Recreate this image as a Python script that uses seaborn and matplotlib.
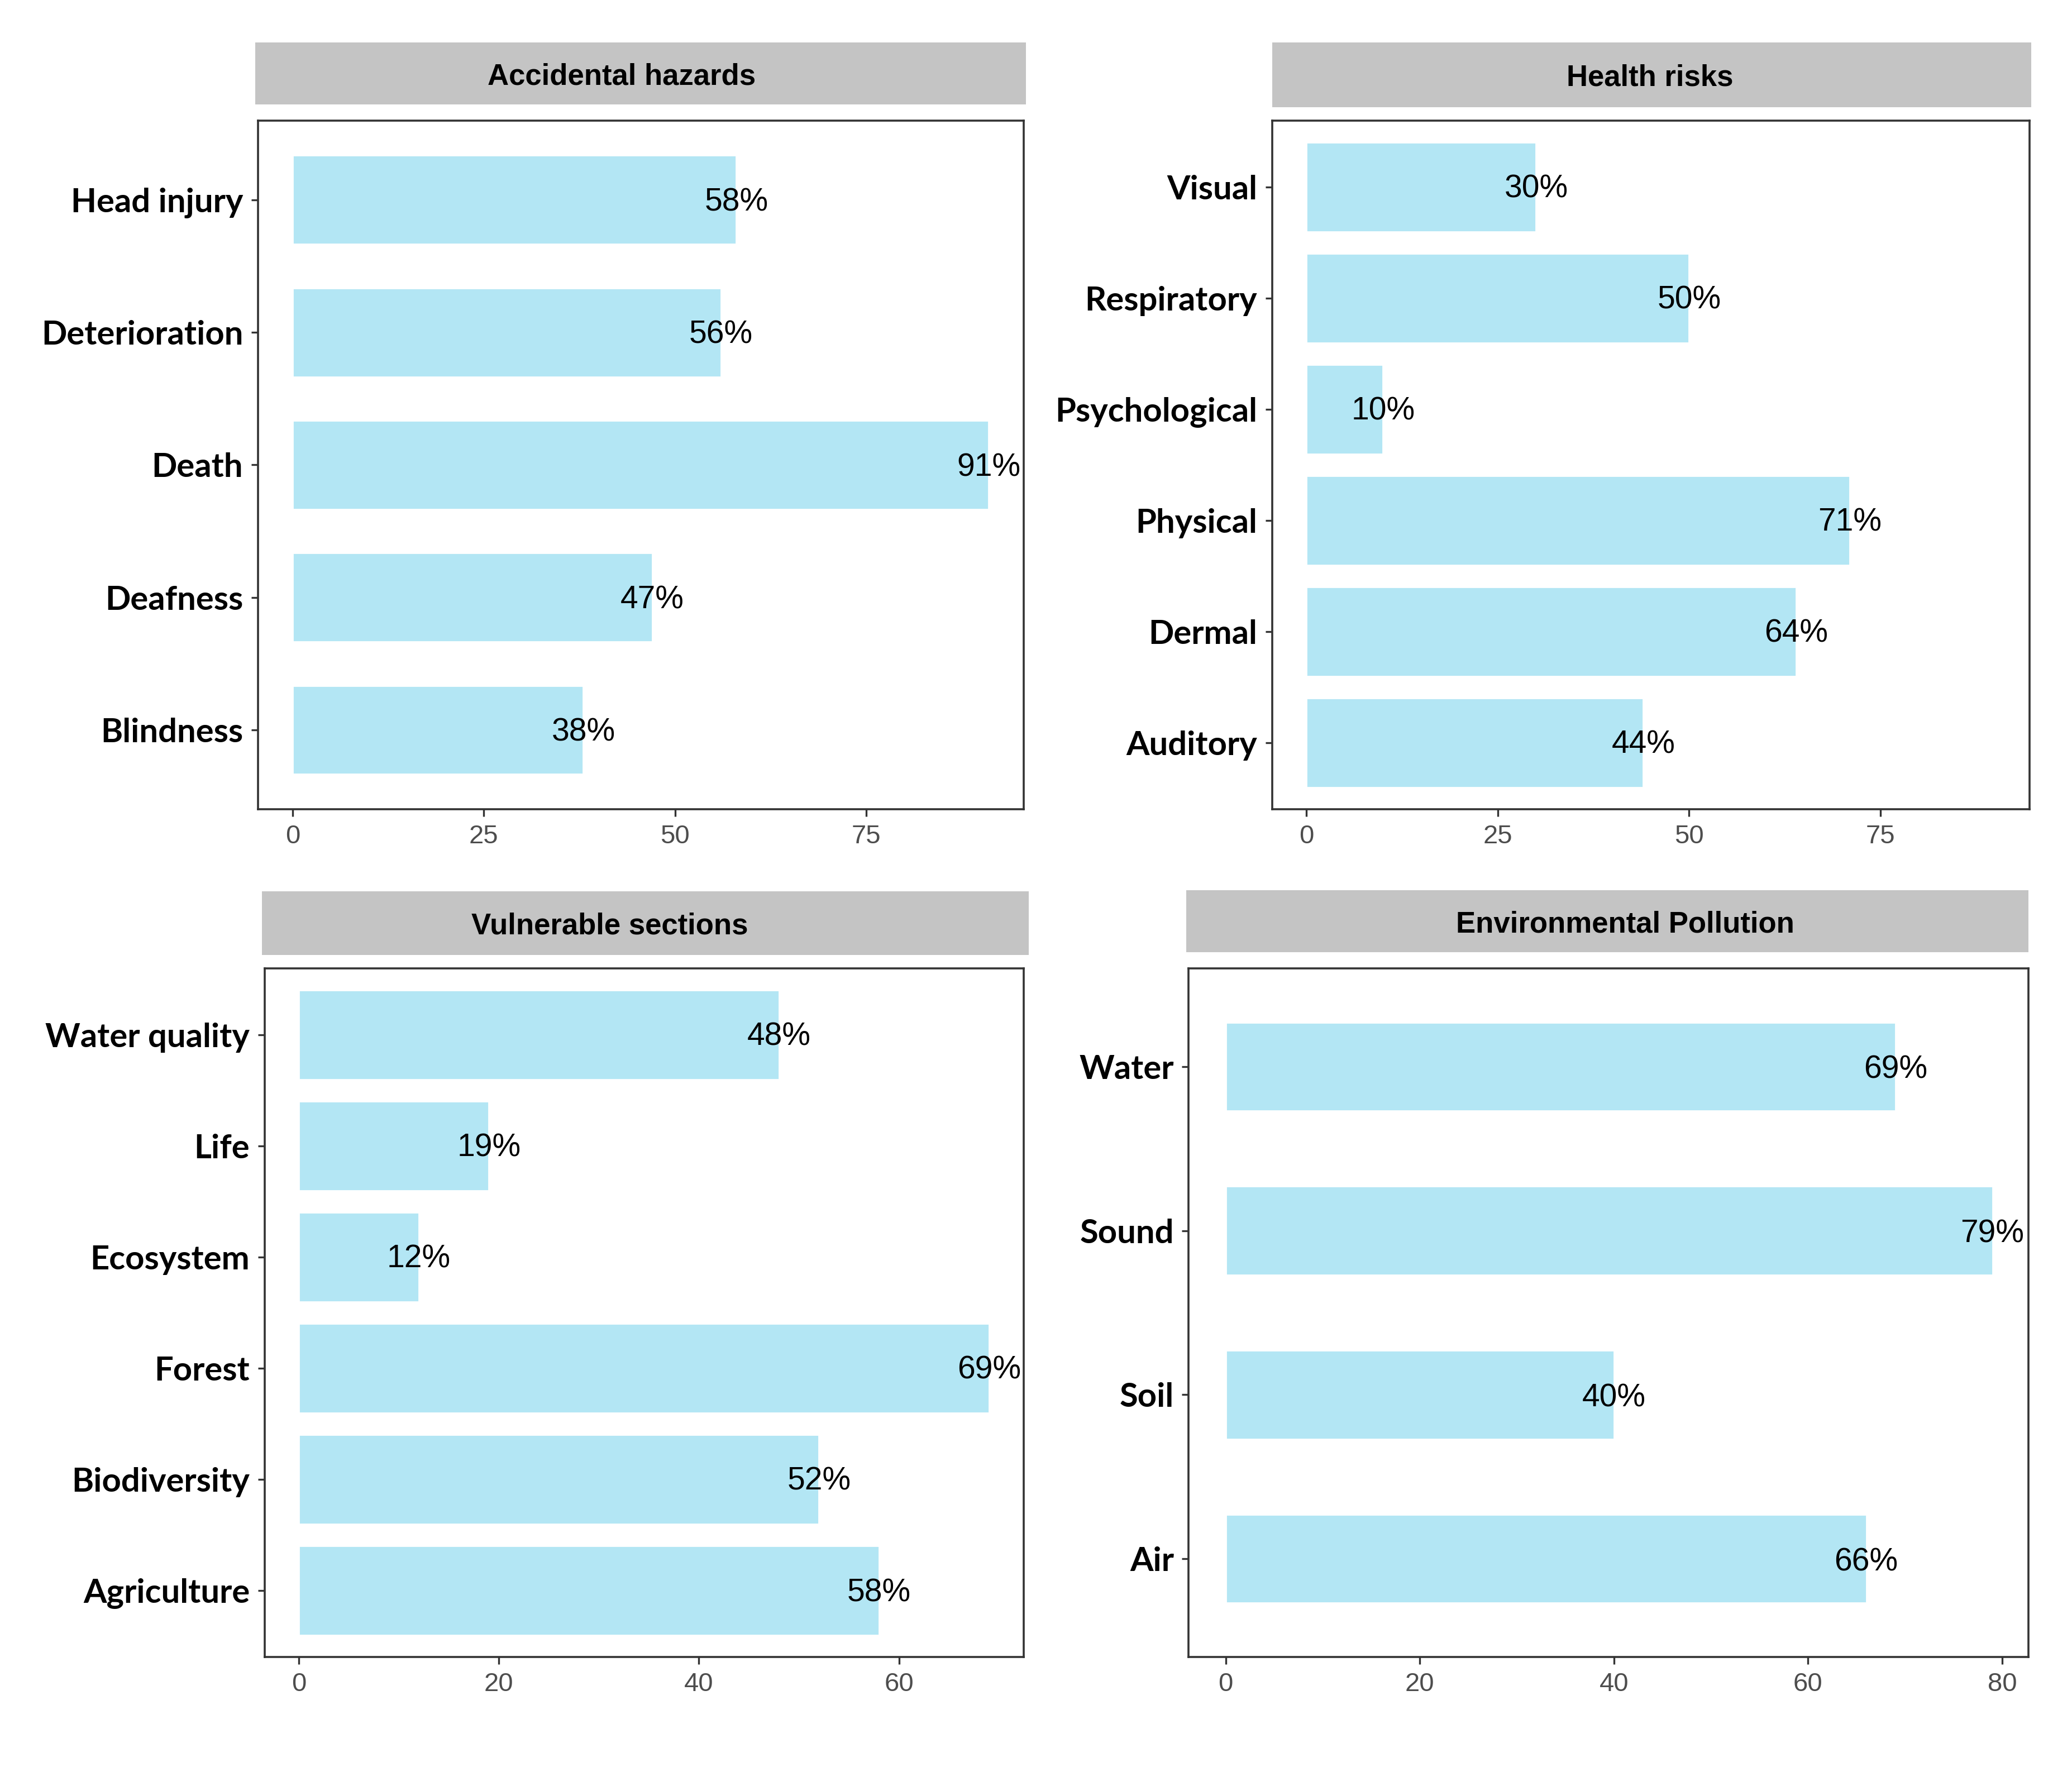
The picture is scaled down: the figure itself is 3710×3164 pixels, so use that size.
import matplotlib
matplotlib.use('Agg')
import matplotlib.pyplot as plt
import seaborn as sns
import pandas as pd

sns.set_style("white")
plt.rcParams['font.family'] = ['Liberation Sans', 'DejaVu Sans']

# data, top to bottom as in the picture
acc_labels = ['Head injury', 'Deterioration', 'Death', 'Deafness', 'Blindness']
acc_values = [58, 56, 91, 47, 38]

health_labels = ['Visual', 'Respiratory', 'Psychological', 'Physical', 'Dermal', 'Auditory']
health_values = [30, 50, 10, 71, 64, 44]

vuln_labels = ['Water quality', 'Life', 'Ecosystem', 'Forest', 'Biodiversity', 'Agriculture']
vuln_values = [48, 19, 12, 69, 52, 58]

env_labels = ['Water', 'Sound', 'Soil', 'Air']
env_values = [69, 79, 40, 66]

BAR = '#B3E6F4'
STRIP = '#C4C4C4'
FRAME = '#333333'

W, H = 1567.0, 1336.0


def fx(x):
    return x / W


def fy(y):
    return 1 - y / H


# panel boxes in reference pixels: (axes x0, x1, y0, y1), (strip x0, x1, y0, y1)
panels = [
    dict(title='Accidental hazards', labels=acc_labels, values=acc_values,
         ax=(195, 774, 91, 612), strip=(193, 776, 32, 79), tx=470,
         xlim=(-4.55, 95.55), ticks=[0, 25, 50, 75], width=0.67),
    dict(title='Health risks', labels=health_labels, values=health_values,
         ax=(962, 1535, 91, 612), strip=(962, 1536, 32, 81), tx=1248,
         xlim=(-4.5, 94.5), ticks=[0, 25, 50, 75], width=0.8),
    dict(title='Vulnerable sections', labels=vuln_labels, values=vuln_values,
         ax=(200, 774, 732, 1253), strip=(198, 778, 674, 722), tx=461,
         xlim=(-3.45, 72.45), ticks=[0, 20, 40, 60], width=0.8),
    dict(title='Environmental Pollution', labels=env_labels, values=env_values,
         ax=(899, 1534, 732, 1253), strip=(897, 1534, 673, 720), tx=1229,
         xlim=(-3.8, 82.7), ticks=[0, 20, 40, 60, 80], width=0.54),
]

fig = plt.figure(figsize=(18.55, 15.82), dpi=200)

for p in panels:
    x0, x1, y0, y1 = p['ax']
    ax = fig.add_axes([fx(x0), fy(y1), fx(x1) - fx(x0), fy(y0) - fy(y1)])
    df = pd.DataFrame({'cat': p['labels'], 'val': p['values']})
    sns.barplot(data=df, y='cat', x='val', order=p['labels'], color=BAR,
                saturation=1, width=p['width'], ax=ax)
    for i, v in enumerate(p['values']):
        ax.text(v, i + 0.02, f'{v}%', ha='center', va='center', fontsize=20.5, color='black')
    n = len(p['labels'])
    ax.set_ylim(n - 1 + 0.6, -0.6)
    ax.set_xlim(*p['xlim'])
    ax.set_xticks(p['ticks'])
    ax.set_xlabel('')
    ax.set_ylabel('')
    for s in ax.spines.values():
        s.set_color(FRAME)
        s.set_linewidth(1.3)
    ax.tick_params(axis='both', which='major', length=4.5, width=1.2, color=FRAME,
                   bottom=True, left=True)
    ax.tick_params(axis='x', labelsize=17, labelcolor='#4D4D4D', pad=5)
    ax.tick_params(axis='y', pad=5)
    for lab in ax.get_yticklabels():
        lab.set_fontfamily(['Lato', 'DejaVu Sans'])
        lab.set_fontweight('bold')
        lab.set_fontsize(21.5)
        lab.set_color('black')

    sx0, sx1, sy0, sy1 = p['strip']
    sax = fig.add_axes([fx(sx0), fy(sy1), fx(sx1) - fx(sx0), fy(sy0) - fy(sy1)])
    sax.set_facecolor(STRIP)
    sax.set_xticks([])
    sax.set_yticks([])
    for s in sax.spines.values():
        s.set_visible(False)
    tpos = (p['tx'] - sx0) / (sx1 - sx0)
    sax.text(tpos, 0.45, p['title'], ha='center', va='center', fontsize=19,
             fontweight='bold', color='black', transform=sax.transAxes)

fig.savefig('out.png', dpi=200, facecolor='white')
